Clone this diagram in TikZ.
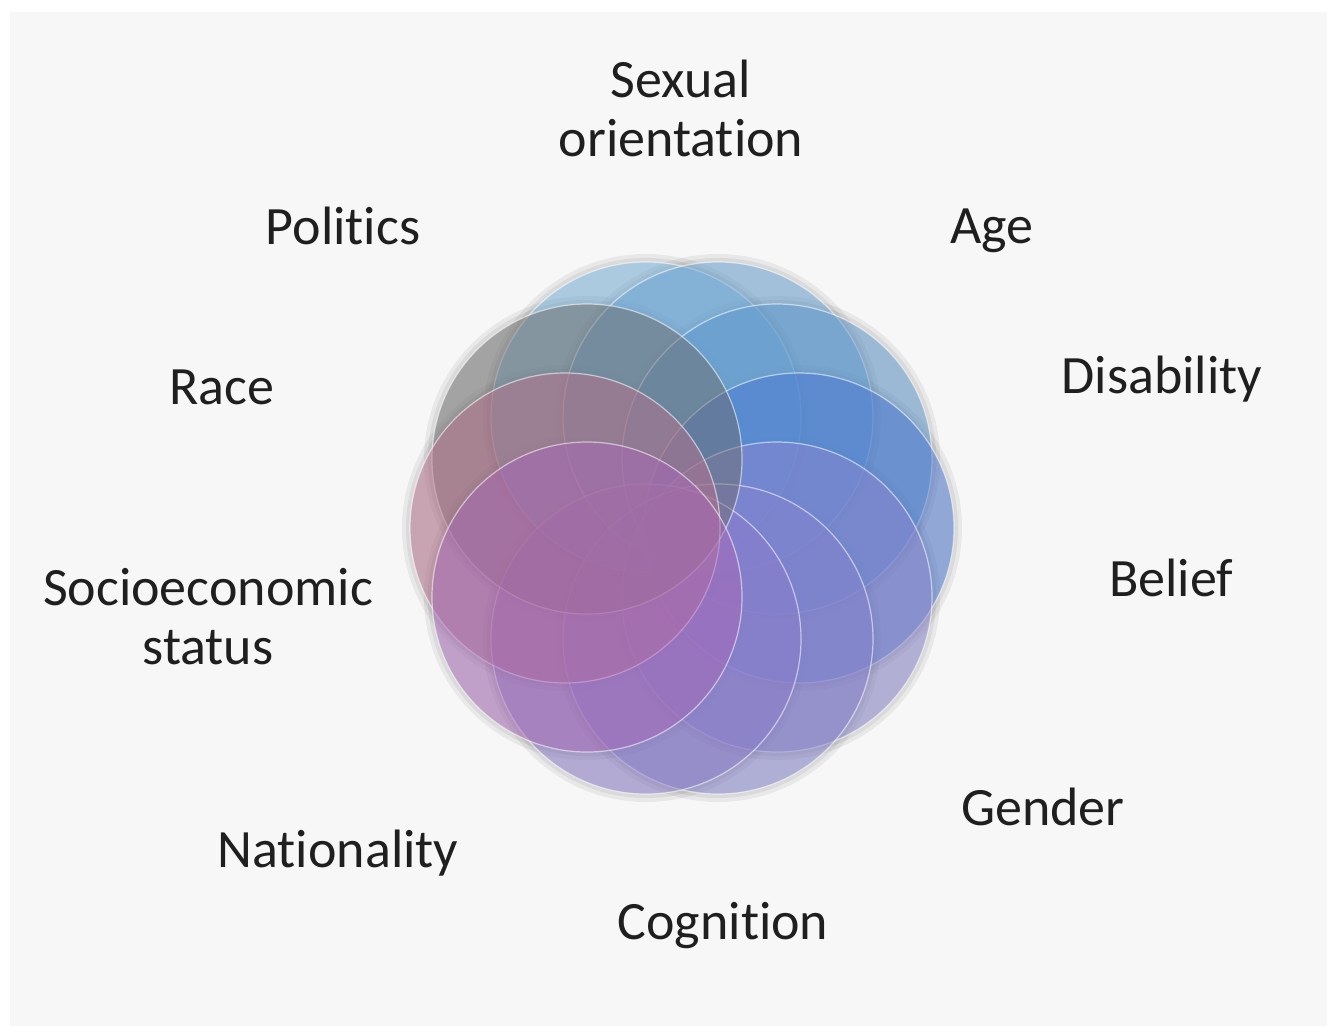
\documentclass[tikz,border=0pt]{standalone}
\usepackage{fontspec}
\setmainfont{Carlito}[Ligatures=NoCommon]
\usepackage{tikz}
\usetikzlibrary{positioning}

\definecolor{bgcol}{HTML}{F7F7F7}
\definecolor{skycol}{HTML}{7DBBE6}
\definecolor{lbluecol}{HTML}{6BA8DA}
\definecolor{steelcol}{HTML}{5E9AD0}
\definecolor{bluecol}{HTML}{4A78D6}
\definecolor{lavcol}{HTML}{8C86D0}
\definecolor{periwcol}{HTML}{8683CF}
\definecolor{violcol}{HTML}{8C7CCC}
\definecolor{greycol}{HTML}{6E6E6E}
\definecolor{pinkcol}{HTML}{B8708C}
\definecolor{lilaccol}{HTML}{A868B8}

\begin{document}
\begin{tikzpicture}[x=1pt,y=-1pt,
	lbl/.style={font=\fontsize{54}{59}\selectfont,text=black!88,align=center},
	petal/.style={fill opacity=0.5,draw=white,draw opacity=0.55,line width=1.2pt},
	halo/.style={fill=black,fill opacity=0.06}]
		\useasboundingbox (0,0) rectangle (1327,1026);
		\fill[white] (0,0) rectangle (1327,1026);
		\fill[bgcol] (10,12) rectangle (1327,1026);
		% centres of the ten circles, 36 degrees apart
		\coordinate (p1) at (646,417);
		\coordinate (p2) at (718,417);
		\coordinate (p3) at (777,459);
		\coordinate (p4) at (799,528);
		\coordinate (p5) at (777,597);
		\coordinate (p6) at (718,639);
		\coordinate (p7) at (646,639);
		\coordinate (p8) at (587,459);
		\coordinate (p9) at (565,528);
		\coordinate (p10) at (587,597);
		% soft shadow
		\foreach \p in {p1,p2,p3,p4,p5,p6,p7,p8,p9,p10} {
			\fill[halo] (\p) circle[radius=163pt];
			\fill[halo] (\p) circle[radius=159pt];
		}
		\filldraw[petal,fill=skycol] (p1) circle[radius=155pt];
		\filldraw[petal,fill=lbluecol] (p2) circle[radius=155pt];
		\filldraw[petal,fill=steelcol] (p3) circle[radius=155pt];
		\filldraw[petal,fill=bluecol] (p4) circle[radius=155pt];
		\filldraw[petal,fill=lavcol] (p5) circle[radius=155pt];
		\filldraw[petal,fill=periwcol] (p6) circle[radius=155pt];
		\filldraw[petal,fill=violcol] (p7) circle[radius=155pt];
		\filldraw[petal,fill=greycol] (p8) circle[radius=155pt];
		\filldraw[petal,fill=pinkcol] (p9) circle[radius=155pt];
		\filldraw[petal,fill=lilaccol] (p10) circle[radius=155pt];
		% labels
		\node[lbl] (sexual) at (681,108) {Sexual\\orientation};
		\node[lbl] (age) at (992,231) {Age};
		\node[lbl] (disability) at (1162,379) {Disability};
		\node[lbl] (belief) at (1171,578) {Belief};
		\node[lbl] (gender) at (1043,807) {Gender};
		\node[lbl] (cognition) at (723,926) {Cognition};
		\node[lbl] (nationality) at (338,853) {Nationality};
		\node[lbl] (socio) at (208,617) {Socioeconomic\\status};
		\node[lbl] (race) at (222,387) {Race};
		\node[lbl] (politics) at (343,226) {Politics};
		\end{tikzpicture}
\end{document}
